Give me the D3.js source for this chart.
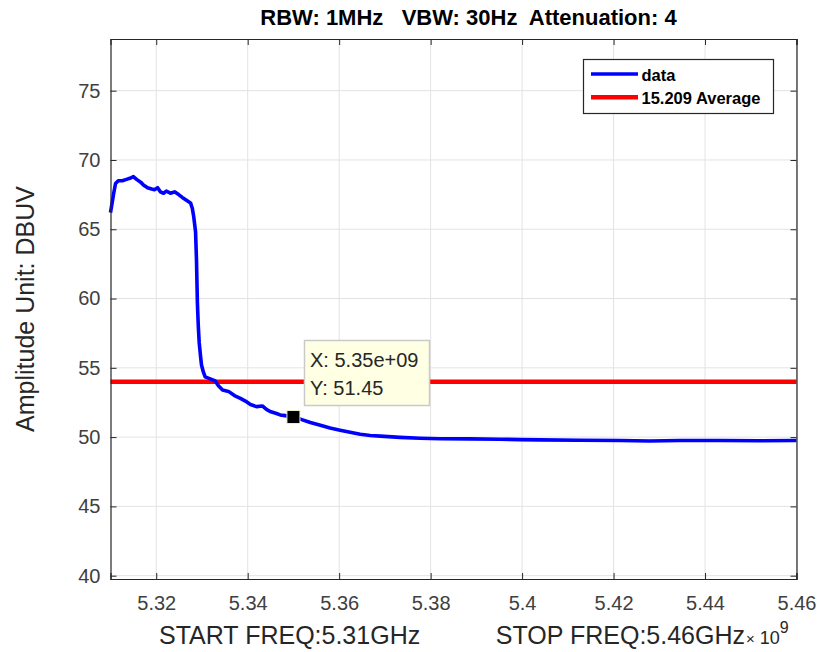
<!DOCTYPE html>
<html>
<head>
<meta charset="utf-8">
<script src="https://cdn.jsdelivr.net/npm/d3@7"></script>
<style>
  html, body { margin: 0; padding: 0; background: #fff; }
  svg { display: block; font-family: "Liberation Sans", Arial, Helvetica, sans-serif; }
</style>
</head>
<body>
<svg id="chart" width="817" height="652"></svg>
<script>
// ---- data (frequency in GHz, amplitude in dBuV) ----
const freqGHz = [
  5.3100, 5.3102, 5.3107, 5.3111, 5.3117, 5.3126, 5.3135, 5.3144, 5.3150, 5.3157,
  5.3166, 5.3172, 5.3181, 5.3190, 5.3196, 5.3203, 5.3209, 5.3216, 5.3222, 5.3231,
  5.3240, 5.3249, 5.3257, 5.3266, 5.3275, 5.3279, 5.3282, 5.3286, 5.3288, 5.3290,
  5.3292, 5.3294, 5.3297, 5.3299, 5.3303, 5.3307, 5.3318, 5.3329, 5.3336, 5.3345,
  5.3358, 5.3371, 5.3384, 5.3395, 5.3406, 5.3419, 5.3432, 5.3441, 5.3449, 5.3463,
  5.3471, 5.3482, 5.3500, 5.3515, 5.3537, 5.3559, 5.3580, 5.3602, 5.3624, 5.3646,
  5.3668, 5.3690, 5.3733, 5.3777, 5.3821, 5.3886, 5.3952, 5.3995, 5.4039, 5.4126,
  5.4214, 5.4279, 5.4345, 5.4432, 5.4519, 5.4600
];
const amplitude = [
  66.2, 66.6, 67.6, 68.3, 68.5, 68.5, 68.6, 68.7, 68.8, 68.6,
  68.4, 68.2, 68.0, 67.9, 67.85, 68.0, 67.7, 67.6, 67.75, 67.6,
  67.7, 67.5, 67.3, 67.1, 66.9, 66.5, 65.9, 64.8, 62.8, 59.7,
  58.0, 56.8, 55.8, 55.2, 54.7, 54.35, 54.2, 54.05, 53.7, 53.4,
  53.3, 53.0, 52.8, 52.6, 52.35, 52.2, 52.25, 52.0, 51.85, 51.7,
  51.6, 51.55, 51.45, 51.3, 51.05, 50.85, 50.65, 50.5, 50.35, 50.2,
  50.12, 50.07, 49.98, 49.92, 49.88, 49.87, 49.85, 49.82, 49.8, 49.77,
  49.76, 49.72, 49.75, 49.75, 49.74, 49.76
];
const limitValue = 54;             // 15.209 Average
const xTicks = [5.32, 5.34, 5.36, 5.38, 5.40, 5.42, 5.44, 5.46];
const xTickLabels = ["5.32", "5.34", "5.36", "5.38", "5.4", "5.42", "5.44", "5.46"];
const yTicks = [40, 45, 50, 55, 60, 65, 70, 75];
const xLimits = [5.31, 5.46];
const yLimits = [39.76, 78.73];
const seriesNames = ["data", "15.209 Average"];
const tipFreqLabel = "5.35e+09";
const tipFreq = 5.35;
const tipValue = 51.45;

// ---- layout ----
const svg = d3.select("#chart");
const L = 110.5, R = 796.5, T = 39, B = 579;
const x = d3.scaleLinear().domain(xLimits).range([L, R]);
const y = d3.scaleLinear().domain(yLimits).range([B, T]);
const axisColor = "#262626";
const gridColor = "#e3e3e3";

// grid
const grid = svg.append("g");
grid.selectAll(".gx").data(xTicks).enter().append("line")
  .attr("x1", d => x(d)).attr("x2", d => x(d)).attr("y1", T).attr("y2", B)
  .attr("stroke", gridColor).attr("stroke-width", 1);
grid.selectAll(".gy").data(yTicks).enter().append("line")
  .attr("y1", d => y(d)).attr("y2", d => y(d)).attr("x1", L).attr("x2", R)
  .attr("stroke", gridColor).attr("stroke-width", 1);

// series
const pts = freqGHz.map((f, i) => [f, amplitude[i]]);
svg.append("line")
  .attr("x1", x(xLimits[0])).attr("x2", x(xLimits[1]))
  .attr("y1", y(limitValue)).attr("y2", y(limitValue))
  .attr("stroke", "#ff0000").attr("stroke-width", 4.5);
svg.append("path")
  .datum(pts)
  .attr("d", d3.line().x(d => x(d[0])).y(d => y(d[1])))
  .attr("fill", "none").attr("stroke", "#0000ff").attr("stroke-width", 3.6)
  .attr("stroke-linejoin", "round");

// axes (box with inward ticks)
const tickLen = 6;
const axB = d3.axisBottom(x).tickValues(xTicks).tickSize(-tickLen).tickPadding(17)
  .tickFormat((d, i) => xTickLabels[i]);
const axT = d3.axisTop(x).tickValues(xTicks).tickSize(-tickLen).tickFormat("");
const axLft = d3.axisLeft(y).tickValues(yTicks).tickSize(-tickLen).tickPadding(10)
  .tickFormat(d3.format("d"));
const axRgt = d3.axisRight(y).tickValues(yTicks).tickSize(-tickLen).tickFormat("");

function style(g) {
  g.select(".domain").attr("stroke", axisColor).attr("stroke-width", 1.2);
  g.selectAll(".tick line").attr("stroke", axisColor).attr("stroke-width", 1);
  g.selectAll(".tick text").attr("fill", "#404040")
    .style("font-family", "'Liberation Sans', Arial, sans-serif").style("font-size", "20px");
}
svg.append("g").attr("transform", `translate(0,${B})`).call(axB).call(style)
  .selectAll(".tick text").attr("dy", "0.71em");
svg.append("g").attr("transform", `translate(0,${T})`).call(axT).call(style);
svg.append("g").attr("transform", `translate(${L},0)`).call(axLft).call(style);
svg.append("g").attr("transform", `translate(${R},0)`).call(axRgt).call(style);

// title
svg.append("text")
  .attr("x", (L + R) / 2 + 15).attr("y", 25)
  .attr("text-anchor", "middle").attr("font-weight", "bold")
  .attr("font-size", 22).attr("fill", "#000")
  .style("white-space", "pre")
  .text("RBW: 1MHz   VBW: 30Hz  Attenuation: 4");

// axis labels
svg.append("text")
  .attr("x", 159).attr("y", 644)
  .attr("font-size", 25).attr("fill", axisColor)
  .text("START FREQ:5.31GHz");
svg.append("text")
  .attr("x", 745).attr("y", 644)
  .attr("text-anchor", "end")
  .attr("font-size", 25).attr("fill", axisColor)
  .text("STOP FREQ:5.46GHz");
const ex = svg.append("text").attr("x", 746).attr("y", 644).attr("fill", axisColor);
ex.append("tspan").attr("font-size", 15).text("\u00d7");
ex.append("tspan").attr("font-size", 18).text(" 10");
ex.append("tspan").attr("font-size", 16).attr("dy", -11).text("9");

svg.append("text")
  .attr("transform", `translate(34,${(T + B) / 2}) rotate(-90)`)
  .attr("text-anchor", "middle")
  .attr("font-size", 25).attr("fill", axisColor)
  .text("Amplitude Unit: DBUV");

// legend
const lg = svg.append("g");
lg.append("rect").attr("x", 583.5).attr("y", 59.5).attr("width", 190).attr("height", 54)
  .attr("fill", "#fff").attr("stroke", axisColor).attr("stroke-width", 1.2);
const legColors = ["#0000ff", "#ff0000"];
seriesNames.forEach((n, i) => {
  const yy = 74 + i * 23.3;
  lg.append("line").attr("x1", 591).attr("x2", 638).attr("y1", yy).attr("y2", yy)
    .attr("stroke", legColors[i]).attr("stroke-width", i === 0 ? 3.6 : 4.5);
  lg.append("text").attr("x", 641.5).attr("y", yy + 6.5)
    .attr("font-size", 16.5).attr("font-weight", "bold").attr("fill", "#000").text(n);
});

// data tip
const tip = svg.append("g");
tip.append("rect").attr("x", 304.5).attr("y", 340.5).attr("width", 125).attr("height", 65)
  .attr("fill", "#ffffe3").attr("stroke", "#c9c9c9").attr("stroke-width", 1.5);
tip.append("text").attr("x", 310).attr("y", 367).attr("font-size", 20).attr("fill", "#262626")
  .text("X: " + tipFreqLabel);
tip.append("text").attr("x", 310).attr("y", 395).attr("font-size", 20).attr("fill", "#262626")
  .text("Y: " + tipValue);
tip.append("rect")
  .attr("x", x(tipFreq) - 6.5).attr("y", y(tipValue) - 6.5).attr("width", 13).attr("height", 13)
  .attr("fill", "#000").attr("stroke", "#eeeec8").attr("stroke-width", 1);
</script>
</body>
</html>
